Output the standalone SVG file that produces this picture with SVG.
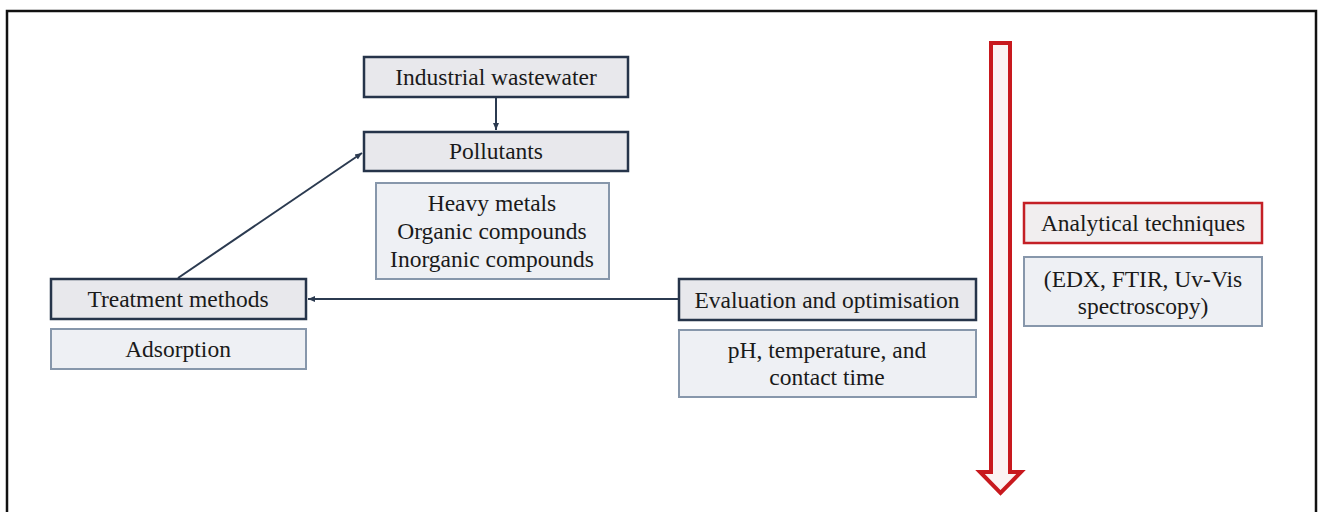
<svg xmlns="http://www.w3.org/2000/svg" width="1320" height="512" viewBox="0 0 1320 512">
<defs>
<marker id="ah" markerWidth="8" markerHeight="8" refX="7" refY="4" orient="auto" markerUnits="userSpaceOnUse">
<path d="M0,1 L7,4 L0,7 Z" fill="#2b3a50"/>
</marker>
<style>
.main{fill:#e8e8ec;stroke:#26344a;stroke-width:2.5}
.sub{fill:#eef0f4;stroke:#8797ab;stroke-width:2}
.red{fill:#f1eeef;stroke:#c42026;stroke-width:2.5}
.t{font-family:'Liberation Serif','Times New Roman','DejaVu Serif',serif;font-size:23.5px;fill:#1a1a1a;text-anchor:middle}
.conn{stroke:#2b3a50;stroke-width:2;fill:none}
</style>
</defs>
<rect width="1320" height="512" fill="#ffffff"/>
<g id="frame" stroke="#111" stroke-width="2.5" fill="none">
<path d="M7,512 L7,11 L1316,11 L1316,512"/>
</g>
<g id="connectors">
<line class="conn" x1="496" y1="98" x2="496" y2="130" marker-end="url(#ah)"/>
<line class="conn" x1="178" y1="278" x2="362" y2="153" marker-end="url(#ah)"/>
<line class="conn" x1="679" y1="299" x2="308" y2="299" marker-end="url(#ah)"/>
</g>
<g id="n-industrial">
<rect class="main" x="364" y="57" width="264" height="40"/>
<text class="t" x="496" y="85">Industrial wastewater</text>
</g>
<g id="n-pollutants">
<rect class="main" x="364" y="132" width="264" height="39"/>
<text class="t" x="496" y="159">Pollutants</text>
</g>
<g id="n-pollutant-types">
<rect class="sub" x="376" y="183" width="233" height="96"/>
<text class="t" x="492" y="211">Heavy metals</text>
<text class="t" x="492" y="239">Organic compounds</text>
<text class="t" x="492" y="267">Inorganic compounds</text>
</g>
<g id="n-treatment">
<rect class="main" x="51" y="279" width="255" height="40"/>
<text class="t" x="178" y="307">Treatment methods</text>
</g>
<g id="n-adsorption">
<rect class="sub" x="51" y="329" width="255" height="40"/>
<text class="t" x="178" y="357">Adsorption</text>
</g>
<g id="n-evaluation">
<rect class="main" x="679" y="279" width="297" height="41"/>
<text class="t" x="827" y="308">Evaluation and optimisation</text>
</g>
<g id="n-params">
<rect class="sub" x="679" y="330" width="297" height="67"/>
<text class="t" x="827" y="358">pH, temperature, and</text>
<text class="t" x="827" y="385">contact time</text>
</g>
<g id="n-analytical">
<rect class="red" x="1024" y="203" width="238" height="40"/>
<text class="t" x="1143" y="231">Analytical techniques</text>
</g>
<g id="n-techniques">
<rect class="sub" x="1024" y="257" width="238" height="69"/>
<text class="t" x="1143" y="287">(EDX, FTIR, Uv-Vis</text>
<text class="t" x="1143" y="314">spectroscopy)</text>
</g>
<g id="red-arrow">
<polygon points="991,43 1010,43 1010,472 1021,472 1000.5,493 980,472 991,472" fill="#fbf3f3" stroke="#c8191e" stroke-width="4" stroke-linejoin="miter"/>
</g>
</svg>
